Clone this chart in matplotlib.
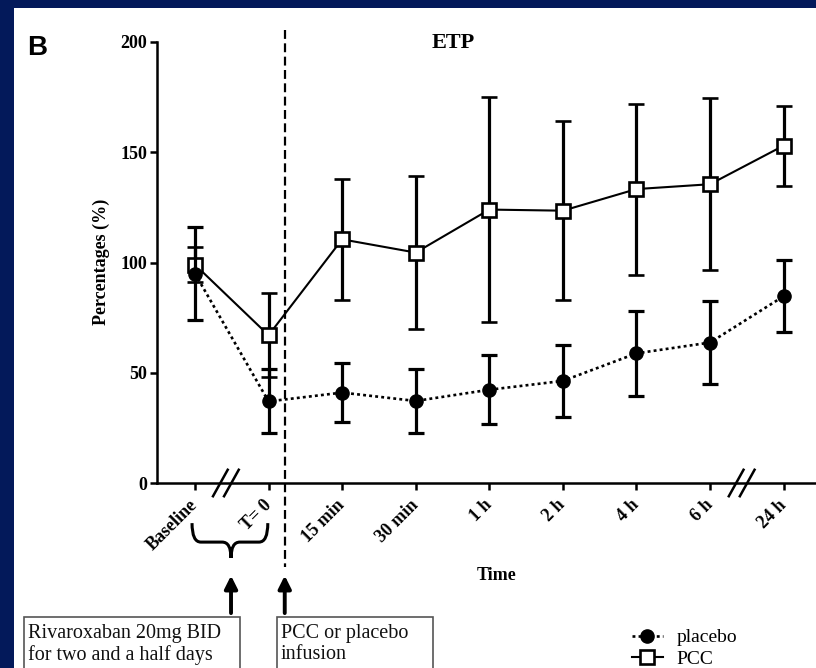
import numpy as np
import matplotlib
matplotlib.use('Agg')
import matplotlib.pyplot as plt
from matplotlib.patches import Rectangle, PathPatch
from matplotlib.path import Path
from matplotlib.lines import Line2D
from matplotlib.transforms import blended_transform_factory

plt.rcParams['font.family'] = ['Liberation Serif', 'DejaVu Serif']

# ETP, percentages of baseline (mean +/- SD)
times = ['Baseline', 'T= 0', '15 min', '30 min', '1 h', '2 h', '4 h', '6 h', '24 h']
pcc_mean = [99, 67, 110.5, 104.5, 124, 123.5, 133.3, 135.5, 153]
pcc_sd = [8, 19, 27.4, 34.8, 51, 40.6, 38.8, 39, 18.2]
plac_mean = [95, 37, 41, 37.2, 42.3, 46.3, 58.8, 63.7, 84.7]
plac_sd = [21.2, 14.5, 13.2, 14.7, 15.7, 16.2, 19.3, 18.8, 16.4]
yticks = [0, 50, 100, 150, 200]

navy = '#03195a'
W, H = 816, 668

fig = plt.figure(figsize=(W / 100, H / 100), dpi=100, facecolor=navy)
# white panel inside the dark frame
fig.add_artist(Rectangle((14 / W, 0), 1 - 14 / W, 1 - 8 / H, transform=fig.transFigure,
                         facecolor='white', edgecolor='none', zorder=0))

ax = fig.add_axes([157 / W, 185 / H, (W - 157) / W, 441 / H])
ax.set_facecolor('none')
x = np.arange(len(times))

ax.errorbar(x, pcc_mean, yerr=pcc_sd, fmt='s-', color='black', lw=1.5, ms=10.5,
            mfc='white', mec='black', mew=1.9, ecolor='black', elinewidth=2.3,
            capsize=6, capthick=2.3, zorder=3)
ax.errorbar(x, plac_mean, yerr=plac_sd, fmt='o', color='black', ms=9.5,
            ecolor='black', elinewidth=2.3, capsize=6, capthick=2.3, zorder=4)
ax.plot(x, plac_mean, color='black', lw=1.9, ls=(0, (1.1, 1.2)), zorder=2)

ax.set_xlim(-0.516, 8.44)
ax.set_ylim(0, 200)
ax.set_yticks(yticks)
ax.set_xticks(x)
ax.set_xticklabels(times)
for s in ['top', 'right']:
    ax.spines[s].set_visible(False)
for s in ['left', 'bottom']:
    ax.spines[s].set_linewidth(1.8)
ax.tick_params(axis='both', direction='out', length=5, width=1.8, labelsize=13)
ax.tick_params(axis='y', pad=2)
ax.tick_params(axis='x', pad=9)
for lab in ax.get_yticklabels():
    lab.set_fontweight('bold')
for lab in ax.get_xticklabels():
    lab.set_fontweight('bold')
    lab.set_rotation(45)
    lab.set_ha('right')
    lab.set_va('center')
    lab.set_rotation_mode('anchor')

bt = blended_transform_factory(ax.transData, ax.transAxes)

# axis breaks
for xb in [0.42, 7.43]:
    for off in [-0.075, 0.075]:
        ax.plot([xb + off - 0.1, xb + off + 0.1], [-0.03, 0.03], color='black', lw=1.8,
                transform=bt, clip_on=False, zorder=5)

# infusion time line
ax.plot([1.22, 1.22], [1.027, -0.19], color='black', lw=1.6, ls=(0, (4, 2)),
        transform=bt, clip_on=False, zorder=1)

# curly brace under Baseline .. T=0
xl, xr, xm = -0.04, 0.99, 0.49
yt, ym, yb = -0.091, -0.134, -0.170
verts = [(xl, yt), (xl, ym), (xl + 0.12, ym), (xm - 0.12, ym), (xm, ym), (xm, yb),
         (xm, yb), (xm, ym), (xm + 0.12, ym), (xr - 0.12, ym), (xr, ym), (xr, yt)]
codes = [Path.MOVETO, Path.CURVE3, Path.CURVE3, Path.LINETO, Path.CURVE3, Path.CURVE3,
         Path.MOVETO, Path.CURVE3, Path.CURVE3, Path.LINETO, Path.CURVE3, Path.CURVE3]
ax.add_patch(PathPatch(Path(verts, codes), fill=False, lw=2.2, edgecolor='black',
                       transform=bt, clip_on=False))

# arrows
for xa in [xm, 1.22]:
    ax.annotate('', xy=(xa, -0.210), xytext=(xa, -0.295), xycoords=bt, textcoords=bt,
                arrowprops=dict(arrowstyle='-|>', lw=2.8, color='black', mutation_scale=19,
                                shrinkA=0, shrinkB=0), annotation_clip=False)

# text boxes
for x0, x1, txt in [(24, 240, 'Rivaroxaban 20mg BID\nfor two and a half days'),
                    (277, 433, 'PCC or placebo\ninfusion')]:
    fig.add_artist(Rectangle((x0 / W, -0.05), (x1 - x0) / W, (668 - 617) / H + 0.05,
                             transform=fig.transFigure, facecolor='white',
                             edgecolor='#555555', lw=1.2))
    fig.text((x0 + 4) / W, (668 - 624) / H, txt, fontsize=14.5, va='top', ha='left',
             linespacing=1.12, color='#111111')

ax.set_ylabel('Percentages (%)', fontsize=13, fontweight='bold')
ax.yaxis.set_label_coords((110 - 157) / 659, (483 - 262) / 441)
fig.text(497 / W, 1 - 576 / H, 'Time', fontsize=13, fontweight='bold', ha='center', va='center')
fig.text(453 / W, 1 - 43 / H, 'ETP', fontsize=16, fontweight='bold', ha='center', va='center')
fig.text(27 / W, 1 - 35 / H, 'B', fontsize=20, fontweight='bold', ha='left', va='top',
         family=['Liberation Sans', 'DejaVu Sans'])

handles = [Line2D([], [], color='black', ls=(0, (1.1, 1.2)), lw=1.9, marker='o', ms=9.5),
           Line2D([], [], color='black', ls='-', lw=1.5, marker='s', ms=10.5, mfc='white', mew=1.9)]
fig.legend(handles, ['placebo', 'PCC'], loc='upper left', bbox_to_anchor=(622 / W, 1 - 619 / H),
           frameon=False, fontsize=14, borderpad=0, handlelength=1.6, handletextpad=0.7,
           labelspacing=0.2)

fig.savefig('out.png', dpi=100, facecolor=fig.get_facecolor())
